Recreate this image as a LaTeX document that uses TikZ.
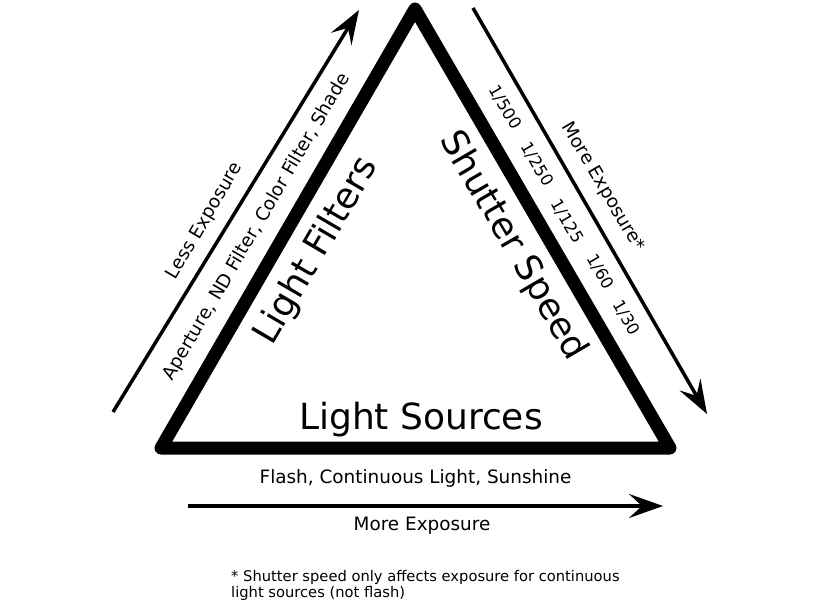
\documentclass[tikz,border=0pt]{standalone}
\usepackage{fontspec}
\setmainfont{DejaVu Sans}
\usetikzlibrary{arrows.meta}
\begin{document}
\begin{tikzpicture}[x=1pt,y=-1pt,
  edge/.style={line width=13pt, line join=round, line cap=round},
  exparrow/.style={line width=3.5pt, -{Stealth[length=34pt,width=24pt,inset=13pt]}},
  big/.style={font=\fontsize{36}{40}\selectfont, inner sep=0pt},
  small/.style={font=\fontsize{18.4}{22}\selectfont, inner sep=0pt},
  num/.style={font=\fontsize{16.5}{20}\selectfont, inner sep=0pt},
  note/.style={font=\fontsize{14.7}{17}\selectfont, inner sep=0pt, anchor=base west},
]
\useasboundingbox (0,0) rectangle (820,602);
\fill[white] (0,0) rectangle (820,602);
% triangle
\coordinate (A) at (415,9);
\coordinate (B) at (161,448);
\coordinate (C) at (670,448);
\draw[edge] (A) -- (B) -- (C) -- cycle;
% arrows
\coordinate (l1) at (113,412);
\coordinate (l2) at (359,10);
\draw[exparrow] (l1) -- (l2);
\coordinate (r1) at (473,8);
\coordinate (r2) at (707,414);
\draw[exparrow] (r1) -- (r2);
\coordinate (b1) at (188,506);
\coordinate (b2) at (663,506);
\draw[exparrow] (b1) -- (b2);
% bottom texts
\node[big, anchor=base] (ls) at (421,429) {Light Sources};
\node[small, anchor=base] (fl) at (415.5,483) {Flash, Continuous Light, Sunshine};
\node[small, anchor=base] (me) at (422,530) {More Exposure};
\node[note] (n1) at (231,581) {* Shutter speed only affects exposure for continuous};
\node[note] (n2) at (231,597) {light sources (not flash)};
% left texts
\node[big, rotate=59.7] (lf) at (317,251) {Light Filters};
\node[small, rotate=59.7] (ap) at (257,227) {Aperture, ND Filter, Color Filter, Shade};
\node[small, rotate=59.7] (le) at (205,221) {Less Exposure};
% right texts
\node[big, rotate=-59.7] (ss) at (513,246) {Shutter Speed};
\node[small, rotate=-59.7] (mx) at (603,187) {More Exposure*};
\node[num, rotate=-59.7] (s1) at (505,107) {1/500};
\node[num, rotate=-59.7] (s2) at (537,164) {1/250};
\node[num, rotate=-59.7] (s3) at (567,221) {1/125};
\node[num, rotate=-59.7] (s4) at (600,272) {1/60};
\node[num, rotate=-59.7] (s5) at (626,318) {1/30};
\end{tikzpicture}
\end{document}
